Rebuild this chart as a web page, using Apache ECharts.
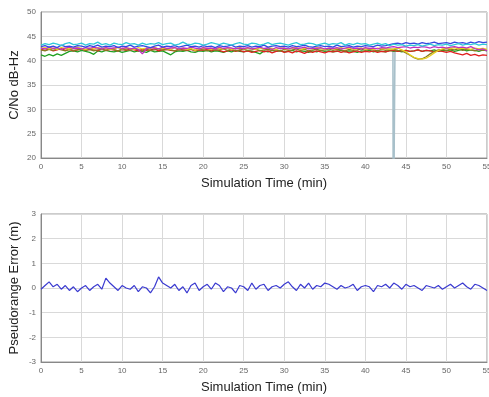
<!DOCTYPE html>
<html>
<head>
<meta charset="utf-8">
<script src="https://cdn.jsdelivr.net/npm/echarts@6/dist/echarts.min.js"></script>
<style>
  html, body { margin: 0; padding: 0; background: #fff; }
  #chart { width: 489px; height: 397px; }
</style>
</head>
<body>
<div id="chart"></div>
<script>
// sample times (min), 0.5 min step
const TIMES = [
  0,0.5,1,1.5,2,2.5,3,3.5,4,4.5,5,5.5,6,6.5,7,7.5,8,8.5,9,9.5,
  10,10.5,11,11.5,12,12.5,13,13.5,14,14.5,15,15.5,16,16.5,17,17.5,18,18.5,19,19.5,
  20,20.5,21,21.5,22,22.5,23,23.5,24,24.5,25,25.5,26,26.5,27,27.5,28,28.5,29,29.5,
  30,30.5,31,31.5,32,32.5,33,33.5,34,34.5,35,35.5,36,36.5,37,37.5,38,38.5,39,39.5,
  40,40.5,41,41.5,42,42.5,43,43.5,44,44.5,45,45.5,46,46.5,47,47.5,48,48.5,49,49.5,
  50,50.5,51,51.5,52,52.5,53,53.5,54,54.5,55
];

// C/No per satellite (dB-Hz)
const cnoCyan = [
  43.2,43.5,43.3,43.6,43.4,43.1,43.5,43.7,43.3,43.4,
  43.6,43.2,43.5,43.4,43.8,43.3,43.5,43.2,43.6,43.4,
  43.3,43.7,43.4,43.5,43.2,43.6,43.3,43.5,43.4,43.7,
  43.3,43.5,43.6,43.2,43.4,43.8,43.4,43.3,43.6,43.5,
  43.2,43.4,43.7,43.5,43.3,43.6,43.4,43.2,43.5,43.7,
  43.4,43.3,43.6,43.5,43.2,43.4,43.7,43.3,43.5,43.6,
  43.4,43.2,43.5,43.7,43.3,43.4,43.6,43.5,43.2,43.4,
  43.6,43.3,43.5,43.4,43.7,43.2,43.5,43.3,43.6,43.4,
  43.5,43.2,43.4,43.6,43.3,43.5,43.1,43.4,43.2,43.3,
  43.0,43.2,43.1,43.3,43.0,43.2,43.4,43.1,43.3,43.2,
  43.4,43.1,43.3,43.5,43.2,43.4,43.3,43.5,43.2,43.4,
  43.3
];
const cnoBlue = [
  42.9,43.1,42.8,43.0,42.7,43.2,42.9,43.0,42.8,43.1,
  43.0,42.8,43.1,42.9,43.2,42.8,43.0,42.9,43.1,42.7,
  43.0,42.9,43.2,42.8,43.0,43.1,42.9,42.7,43.0,43.2,
  42.8,43.0,42.9,43.1,42.8,43.0,43.2,42.9,43.0,42.8,
  43.1,42.9,43.0,42.7,43.1,42.9,43.0,43.2,42.8,43.0,
  42.9,43.1,42.8,43.0,42.9,43.2,42.8,43.0,43.1,42.9,
  43.0,42.8,43.1,42.9,43.0,43.2,42.9,42.8,43.0,43.1,
  42.9,43.0,42.8,43.2,42.9,43.0,43.1,42.8,43.0,42.9,
  43.1,43.0,42.9,43.2,43.0,43.1,43.3,43.5,43.6,43.4,
  43.7,43.5,43.6,43.4,43.7,43.5,43.6,43.8,43.5,43.6,
  43.7,43.5,43.8,43.6,43.7,43.5,43.8,43.6,43.9,43.7,
  43.8
];
const cnoMagenta = [
  42.6,42.4,42.8,42.5,42.7,42.3,42.6,42.8,42.5,42.6,
  42.4,42.7,42.5,42.8,42.6,42.4,42.7,42.5,42.6,42.8,
  42.5,42.7,42.4,42.6,42.3,41.4,42.5,42.7,42.6,42.4,
  42.8,42.5,42.6,42.7,42.4,42.6,42.5,42.8,42.6,42.4,
  42.7,42.5,42.6,42.4,42.8,42.5,42.7,42.6,42.4,42.6,
  42.5,42.7,42.4,42.6,42.8,42.5,42.6,42.3,42.7,42.5,
  42.6,42.4,42.7,42.5,42.6,42.8,42.4,42.6,42.5,42.7,
  42.4,42.6,42.5,42.7,42.4,42.6,42.8,42.5,42.6,42.4,
  42.7,42.5,42.6,42.4,42.7,42.6,42.8,42.9,42.7,42.8,
  42.9,42.6,42.8,42.7,42.9,42.8,42.6,42.9,42.7,42.8,
  42.6,42.8,42.9,42.7,42.8,42.6,42.9,42.5,42.2,42.4,
  42.0
];
const cnoGreen = [
  41.2,40.9,41.3,41.0,41.4,41.1,41.5,41.9,42.0,41.8,
  42.1,41.9,41.7,41.3,42.0,41.8,42.1,41.9,41.8,42.0,
  41.7,41.9,42.1,41.8,42.0,41.9,41.7,42.1,41.8,41.9,
  42.0,41.6,41.2,41.8,42.0,41.9,42.1,41.8,41.7,42.0,
  41.9,42.1,41.8,42.0,41.9,41.7,42.0,41.8,42.1,41.9,
  41.8,42.0,41.9,41.7,41.4,42.0,41.8,42.1,41.9,42.0,
  41.8,41.9,42.1,41.8,42.0,41.9,41.7,42.0,41.8,42.1,
  41.9,42.0,41.8,41.9,42.1,41.8,42.0,41.9,41.7,42.0,
  41.9,42.1,41.8,42.0,41.9,41.8,42.1,41.9,42.0,41.8,
  42.1,41.9,42.0,42.2,41.9,42.1,42.0,42.2,41.9,42.1,
  42.0,42.2,41.9,42.1,42.3,42.0,42.2,42.1,41.9,42.2,
  42.0
];
const cnoRed = [
  42.3,42.1,42.4,42.0,42.2,42.5,42.1,42.3,42.0,42.2,
  42.4,42.1,42.3,42.2,42.0,42.4,42.1,42.3,42.2,42.0,
  42.3,42.1,42.4,42.2,42.0,42.3,42.1,42.2,42.4,42.0,
  42.2,42.3,42.1,42.0,42.3,42.2,42.1,42.3,42.0,42.2,
  42.1,42.3,42.0,42.2,42.1,41.8,42.0,42.2,41.9,42.1,
  41.8,42.0,41.7,41.9,42.1,41.8,42.0,41.6,41.9,42.1,
  41.7,41.9,41.6,42.0,41.8,41.5,41.9,41.7,42.0,41.8,
  41.6,41.9,41.8,42.0,41.7,41.9,41.6,41.8,42.0,41.7,
  41.9,41.8,42.0,41.7,41.9,41.8,42.0,42.1,41.9,42.0,
  42.1,41.9,42.0,42.2,41.9,42.1,42.0,41.8,42.0,41.9,
  41.7,41.9,41.6,41.4,41.2,41.5,41.1,41.3,41.0,41.2,
  41.1
];
const cnoYellow = [
  42.5,42.7,42.4,42.6,42.3,42.7,42.5,42.4,42.6,42.8,
  42.5,42.3,42.6,42.4,42.7,42.5,42.6,42.3,42.5,42.7,
  42.4,42.6,42.5,42.3,42.7,42.4,42.6,42.5,42.8,42.4,
  42.6,42.5,42.3,42.7,42.4,42.6,42.3,42.5,42.1,42.4,
  42.6,42.5,42.3,42.7,42.5,42.4,42.6,42.3,42.5,42.7,
  42.4,42.6,42.5,42.3,42.6,42.4,42.7,42.5,42.3,42.6,
  42.5,42.4,42.6,42.7,42.3,42.5,42.6,42.4,42.7,42.5,
  42.3,42.6,42.4,42.5,42.7,42.4,42.6,42.3,42.5,42.6,
  42.4,42.5,42.3,42.6,42.4,42.5,42.3,42.4,42.6,42.2,
  41.8,41.2,40.7,40.4,40.3,40.5,41.0,41.6,42.1,42.4,
  42.6,42.5,42.7,42.4,42.6,42.5,42.3,42.6,42.4,42.5,
  42.3
];
const cnoOlive = [
  42.2,42.0,42.3,42.1,42.4,42.2,42.0,42.3,42.1,42.2,
  42.4,42.1,42.3,42.0,42.2,42.3,42.1,42.4,42.2,42.0,
  42.3,42.2,42.1,42.4,42.2,42.0,42.3,42.1,42.2,42.4,
  42.1,42.3,42.2,42.0,42.3,42.1,42.2,42.4,42.1,42.3,
  42.2,42.0,42.3,42.1,42.2,42.4,42.1,42.3,42.0,42.2,
  42.3,42.1,42.2,42.4,42.0,42.2,42.3,42.1,42.2,42.0,
  42.3,42.1,42.2,42.4,42.1,42.3,42.0,42.2,42.3,42.1,
  42.2,42.4,42.1,42.3,42.2,42.0,42.3,42.1,42.2,42.4,
  42.1,42.3,42.2,42.0,42.3,42.1,42.2,42.3,42.1,42.0,
  41.6,41.1,40.6,40.3,40.4,40.8,41.4,41.9,42.2,42.3,
  42.1,42.3,42.2,42.4,42.1,42.3,42.2,42.0,42.3,42.1,
  42.2
];
// satellite briefly lost around 43.5 min
const lostTimes = [42.5, 43.0, 43.4, 43.45, 43.6, 43.65, 44.0];
const lostCno   = [42.4, 42.5, 42.3, 0, 0, 42.4, 42.5];

// pseudorange error (m)
const prError = [
  -0.05,0.10,0.25,0.05,0.15,-0.05,0.10,-0.10,0.05,-0.15,
  0.00,0.10,-0.10,0.05,0.15,-0.05,0.40,0.20,0.05,-0.10,
  0.10,0.00,-0.05,0.10,-0.15,0.05,0.00,-0.20,0.05,0.45,
  0.20,0.10,0.00,0.15,-0.10,0.05,-0.20,0.10,0.20,-0.10,
  0.05,0.15,-0.05,0.20,0.10,-0.15,0.05,0.00,-0.20,0.10,
  0.05,-0.10,0.20,-0.05,0.10,0.15,-0.10,0.05,0.10,0.00,
  0.15,0.25,0.05,-0.10,0.15,0.00,0.20,-0.05,0.10,0.05,
  0.20,0.15,0.05,-0.05,0.10,0.00,0.05,0.15,-0.10,0.05,
  0.10,0.05,-0.15,0.10,0.05,0.15,0.00,0.20,0.10,-0.05,
  0.15,0.05,0.10,0.00,-0.10,0.10,0.05,0.00,0.10,-0.05,
  0.05,0.15,0.00,0.10,0.20,0.05,-0.05,0.15,0.10,0.00,
  -0.10
];

const pair = (xs, ys) => xs.map((x, i) => [x, ys[i]]);

const chart = echarts.init(document.getElementById('chart'), null, { renderer: 'canvas' });

const font = 'Liberation Sans, Arial, sans-serif';
const gridLine = { show: true, lineStyle: { color: '#d9d9d9', width: 1 } };
const tickLabel = { color: '#666', fontSize: 8, fontFamily: font };
const axisName = { color: '#222', fontSize: 13, fontFamily: font };

function xAxisCfg(idx) {
    return {
        gridIndex: idx,
        type: 'value',
        min: 0, max: 55, interval: 5,
        name: 'Simulation Time (min)',
        nameLocation: 'middle',
        nameGap: 19,
        nameMoveOverlap: false,
        nameTextStyle: axisName,
        axisLine: { onZero: false, lineStyle: { color: '#888' } },
        axisTick: { show: false },
        axisLabel: Object.assign({ margin: 5 }, tickLabel),
        splitLine: gridLine
    };
}

function line(name, data, color, xi, yi, w, z) {
    return {
        name, type: 'line', xAxisIndex: xi, yAxisIndex: yi,
        data, showSymbol: false, symbol: 'none', animation: false,
        lineStyle: { color, width: w || 1.3 }, z: z || 2
    };
}

const option = {
    animation: false,
    grid: [
        { left: 41, top: 12, width: 446, height: 146, outerBoundsMode: 'none', containLabel: false,
          show: true, borderColor: '#999', borderWidth: 1, backgroundColor: '#fff' },
        { left: 41, top: 214, width: 446, height: 148, outerBoundsMode: 'none', containLabel: false,
          show: true, borderColor: '#999', borderWidth: 1, backgroundColor: '#fff' }
    ],
    xAxis: [xAxisCfg(0), xAxisCfg(1)],
    yAxis: [
        {
            gridIndex: 0, type: 'value', min: 20, max: 50, interval: 5,
            name: 'C/No dB-Hz', nameLocation: 'middle', nameGap: 20,
            nameMoveOverlap: false,
            nameTextStyle: axisName,
            axisLine: { show: true, lineStyle: { color: '#888' } },
            axisTick: { show: false },
            axisLabel: Object.assign({ margin: 5 }, tickLabel),
            splitLine: gridLine
        },
        {
            gridIndex: 1, type: 'value', min: -3, max: 3, interval: 1,
            name: 'Pseudorange Error (m)', nameLocation: 'middle', nameGap: 20,
            nameMoveOverlap: false,
            nameTextStyle: axisName,
            axisLine: { show: true, onZero: false, lineStyle: { color: '#888' } },
            axisTick: { show: false },
            axisLabel: Object.assign({ margin: 5 }, tickLabel),
            splitLine: gridLine
        }
    ],
    series: [
        line('lost', pair(lostTimes, lostCno), '#a8c0ca', 0, 0, 1.6, 1),
        line('green', pair(TIMES, cnoGreen), '#22a022', 0, 0),
        line('red', pair(TIMES, cnoRed), '#e02020', 0, 0),
        line('olive', pair(TIMES, cnoOlive), '#8a7a20', 0, 0),
        line('yellow', pair(TIMES, cnoYellow), '#e6d020', 0, 0),
        line('magenta', pair(TIMES, cnoMagenta), '#c030c0', 0, 0),
        line('blue', pair(TIMES, cnoBlue), '#3848e0', 0, 0),
        line('cyan', pair(TIMES, cnoCyan), '#30c8d8', 0, 0),
        line('error', pair(TIMES, prError), '#3a3ad0', 1, 1, 1.2)
    ]
};

chart.setOption(option);
</script>
</body>
</html>
